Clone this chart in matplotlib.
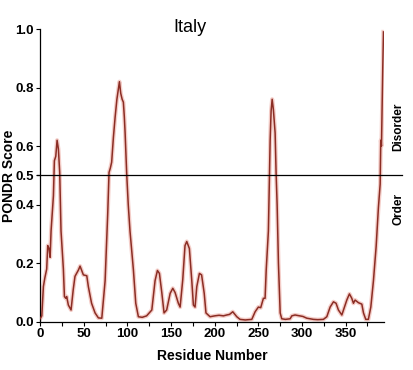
import matplotlib
matplotlib.use("Agg")
import matplotlib.pyplot as plt
from matplotlib.ticker import MultipleLocator

# PONDR trace (residue, score)
residue = [0, 2, 3.8, 5.5, 7.6, 8.8, 10.3, 11.5, 12.6, 15.3, 16.4, 18, 19.5, 21,
           22.5, 24, 26.7, 27.9, 29.4, 30.5, 32.4, 35.5, 38, 40, 44, 45.8, 47.7,
           49.6, 53.5, 55.3, 59, 63, 66.8, 70.7, 74.5, 77.5, 79, 80.5, 82, 84, 86,
           88, 90, 90.9, 92.4, 94, 95.4, 96.5, 97.4, 99.3, 101, 103, 106.9, 109.6,
           112.6, 117, 122, 128, 131.7, 134.4, 136.7, 139.4, 142, 145, 149, 152,
           154.6, 158.4, 160.4, 163.4, 166, 168, 171, 173.7, 175.6, 177.5, 179.5,
           182.5, 185, 188, 190, 194.7, 200, 205, 210, 213.8, 217, 220.7, 225.3,
           229, 235, 242.5, 246.3, 250, 252.7, 255.8, 257.7, 259, 261.5, 262.7,
           263.5, 264.6, 265.8, 267.2, 269.2, 270.3, 271.5, 273, 275, 276.8, 281,
           286.4, 288.3, 292, 297.8, 301, 305.5, 313, 318, 324.5, 328.4, 332.2,
           336, 339, 341.7, 345.6, 348.2, 351.3, 354.3, 357, 358.9, 360.8, 364.6,
           368.5, 370.4, 373, 376, 378.8, 381.8, 384.9, 387.5, 389.5, 390.2, 391,
           392.5, 393.3]
score = [0.01, 0.02, 0.12, 0.15, 0.18, 0.26, 0.25, 0.22, 0.31, 0.43, 0.55, 0.565,
         0.62, 0.59, 0.51, 0.31, 0.18, 0.086, 0.08, 0.086, 0.057, 0.04, 0.11, 0.155,
         0.177, 0.19, 0.175, 0.16, 0.157, 0.12, 0.063, 0.03, 0.013, 0.012, 0.14,
         0.37, 0.51, 0.525, 0.545, 0.63, 0.70, 0.76, 0.80, 0.82, 0.78, 0.76, 0.75,
         0.70, 0.645, 0.50, 0.40, 0.31, 0.177, 0.063, 0.017, 0.015, 0.02, 0.04,
         0.14, 0.175, 0.165, 0.10, 0.03, 0.04, 0.097, 0.114, 0.10, 0.063, 0.05,
         0.143, 0.26, 0.274, 0.25, 0.143, 0.057, 0.05, 0.12, 0.165, 0.16, 0.097,
         0.03, 0.017, 0.02, 0.022, 0.02, 0.023, 0.025, 0.034, 0.017, 0.008, 0.006,
         0.008, 0.034, 0.05, 0.048, 0.08, 0.08, 0.177, 0.31, 0.485, 0.62, 0.72,
         0.76, 0.725, 0.645, 0.51, 0.40, 0.20, 0.03, 0.01, 0.008, 0.01, 0.02,
         0.023, 0.02, 0.018, 0.012, 0.008, 0.007, 0.008, 0.017, 0.05, 0.068, 0.063,
         0.04, 0.023, 0.046, 0.074, 0.095, 0.08, 0.063, 0.074, 0.065, 0.06, 0.03,
         0.008, 0.008, 0.05, 0.14, 0.257, 0.39, 0.47, 0.62, 0.60, 0.87, 0.99]

threshold = 0.5
xticks = [0, 50, 100, 150, 200, 250, 300, 350]
yticks = [0.0, 0.2, 0.4, 0.5, 0.6, 0.8, 1.0]

arial = ["Liberation Sans", "DejaVu Sans"]

fig = plt.figure(figsize=(4.13, 3.70), dpi=100)
ax = fig.add_axes([0.097, 0.1305, 0.833, 0.7911])

# pale halo under the line, like the blurred original
ax.plot(residue, score, color="#f4cdc8", lw=3.0, zorder=2)
ax.plot(residue, score, color="#8b2d24", lw=1.1, zorder=3)
ax.axhline(threshold, xmin=-0.009, xmax=1.052, color="black", lw=0.9,
           clip_on=False, zorder=4)

ax.set_xlim(0, 394)
ax.set_ylim(0, 1.0)
ax.spines["top"].set_visible(False)
ax.spines["right"].set_visible(False)
ax.spines["left"].set_linewidth(0.9)
ax.spines["bottom"].set_linewidth(0.9)

ax.set_xticks(xticks)
ax.xaxis.set_minor_locator(MultipleLocator(25))
ax.set_yticks(yticks)
ax.set_yticklabels(["%.1f" % v for v in yticks])
ax.tick_params(axis="both", which="both", direction="out", length=3, width=0.8,
               pad=1.5)
for lbl in ax.get_xticklabels() + ax.get_yticklabels():
    lbl.set_fontfamily(arial)
    lbl.set_fontweight("bold")
    lbl.set_fontsize(9.5)

ax.set_xlabel("Residue Number", family=arial, fontweight="bold", fontsize=10)
ax.xaxis.set_label_coords(0.5, -0.093)
ax.set_ylabel("PONDR Score", family=arial, fontweight="bold", fontsize=10)
ax.yaxis.set_label_coords(-0.071, 0.5)

fig.text(0.46, 0.925, "Italy", family=arial, fontsize=13, ha="center",
         va="center")
fig.text(0.964, 0.657, "Disorder", family=arial, fontweight="bold",
         fontsize=8.5, rotation=90, ha="center", va="center")
fig.text(0.964, 0.435, "Order", family=arial, fontweight="bold",
         fontsize=8.5, rotation=90, ha="center", va="center")

fig.savefig("out.png", dpi=100)
